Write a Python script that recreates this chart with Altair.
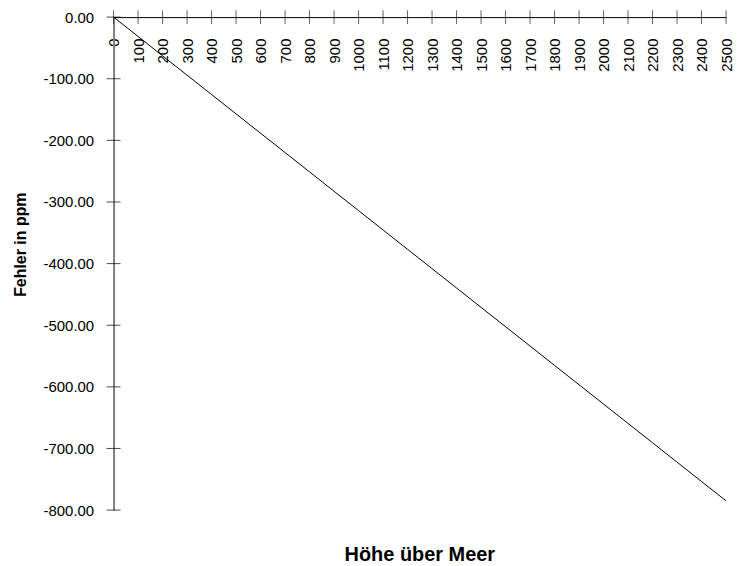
import altair as alt
import pandas as pd

hoehe = [0, 100, 200, 300, 400, 500, 600, 700, 800, 900, 1000, 1100, 1200,
         1300, 1400, 1500, 1600, 1700, 1800, 1900, 2000, 2100, 2200, 2300, 2400, 2500]
fehler = [0.0, -31.4, -62.8, -94.2, -125.6, -157.0, -188.4, -219.8, -251.2, -282.6,
          -314.0, -345.4, -376.8, -408.2, -439.6, -471.0, -502.4, -533.8, -565.2,
          -596.6, -628.0, -659.4, -690.8, -722.2, -753.6, -785.0]
x_ticks = list(range(0, 2501, 100))
y_ticks = [0, -100, -200, -300, -400, -500, -600, -700, -800]

df = pd.DataFrame({"hoehe": hoehe, "fehler": fehler})
xt = pd.DataFrame({"t": x_ticks})
yt = pd.DataFrame({"t": y_ticks})

FONT = "Liberation Sans"
XTITLE = "Höhe über Meer"
YTITLE = "Fehler in ppm"

xscale = alt.Scale(domain=[0, 2500], nice=False, zero=False)
yscale = alt.Scale(domain=[-800, 0], nice=False, zero=False)

xaxis = alt.Axis(orient="top", values=x_ticks, format="d",
                 ticks=False, tickSize=0, grid=False,
                 domainColor="black", domainWidth=1,
                 labelAngle=270, labelAlign="right", labelBaseline="middle",
                 labelPadding=-21, labelFlush=False, labelOverlap=False,
                 labelBound=False,
                 labelFont=FONT, labelFontSize=15, labelColor="black",
                 titleFont=FONT, titleFontSize=20, titleFontWeight="bold",
                 titleColor="black", titleX=307, titleY=540,
                 titleAlign="center", titleBaseline="middle", titleAngle=0)
yaxis = alt.Axis(orient="left", values=y_ticks, format=".2f",
                 labelExpr="replace(datum.label, '\u2212', '-')",
                 ticks=False, tickSize=0, grid=False,
                 domainColor="#808080", domainWidth=2,
                 labelPadding=20, labelFlush=False, labelOverlap=False,
                 labelFont=FONT, labelFontSize=15, labelColor="black",
                 titleFont=FONT, titleFontSize=16, titleFontWeight="bold",
                 titleColor="black", titleX=-93, titleY=228,
                 titleAlign="center", titleBaseline="middle", titleAngle=270)

line = alt.Chart(df).mark_line(color="black", strokeWidth=1).encode(
    x=alt.X("hoehe:Q", scale=xscale, title=XTITLE, axis=xaxis),
    y=alt.Y("fehler:Q", scale=yscale, title=YTITLE, axis=yaxis),
)

xtick = alt.Chart(xt).mark_tick(orient="vertical", size=14, thickness=1, color="#222222").encode(
    x=alt.X("t:Q", scale=xscale, title=XTITLE, axis=xaxis),
    y=alt.YDatum(0, scale=yscale, title=YTITLE, axis=yaxis),
)

ytick = alt.Chart(yt).mark_tick(orient="horizontal", size=14, thickness=1, color="black").encode(
    y=alt.Y("t:Q", scale=yscale, title=YTITLE, axis=yaxis),
    x=alt.XDatum(0, scale=xscale, title=XTITLE, axis=xaxis),
)

chart = alt.layer(line, xtick, ytick).properties(
    width=615, height=495,
    autosize=alt.AutoSizeParams(type="none"),
    padding={"left": 106, "top": 8, "right": 10, "bottom": 54},
).configure_view(stroke=None)

chart.save("out.html", embed_options={"renderer": "svg", "actions": False})
